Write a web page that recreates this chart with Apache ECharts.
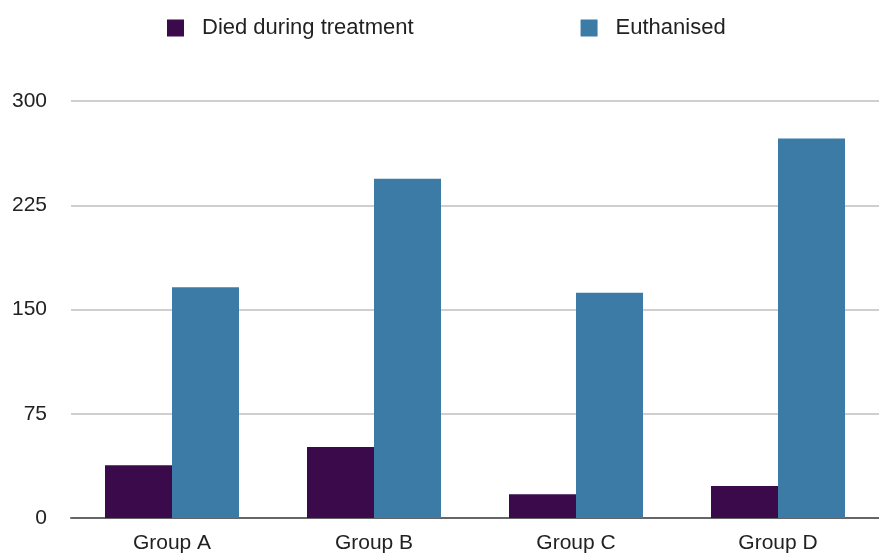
<!DOCTYPE html>
<html>
<head>
<meta charset="utf-8">
<script src="https://cdn.jsdelivr.net/npm/echarts@6/dist/echarts.min.js"></script>
<style>html,body{margin:0;padding:0;background:#fff}#c{width:879px;height:554px}</style>
</head>
<body>
<div id="c"></div>
<script>
const categories = ['Group A', 'Group B', 'Group C', 'Group D'];
const seriesNames = ['Died during treatment', 'Euthanised'];
const died = [38, 51, 17, 23];
const euthanised = [166, 244, 162, 273];
const yTicks = [0, 75, 150, 225, 300];

const chart = echarts.init(document.getElementById('c'));
const font = '"Liberation Sans", Arial, Helvetica, sans-serif';
chart.setOption({
  animation: false,
  legend: {
    top: 12,
    left: 162,
    itemGap: 167,
    itemWidth: 17,
    itemHeight: 17,
    icon: 'rect',
    textStyle: { fontFamily: font, fontSize: 22, color: '#222', padding: [0, 0, 0, 13] },
    data: seriesNames
  },
  grid: { left: 71, right: 0, top: 101, bottom: 35, containLabel: false },
  xAxis: {
    type: 'category',
    data: categories,
    axisTick: { show: false },
    axisLine: { lineStyle: { color: '#666', width: 2 } },
    axisLabel: { fontFamily: font, fontSize: 21, color: '#222', margin: 15 }
  },
  yAxis: {
    type: 'value',
    min: yTicks[0],
    max: yTicks[yTicks.length - 1],
    interval: yTicks[1] - yTicks[0],
    axisLine: { show: false },
    axisTick: { show: false },
    splitLine: { lineStyle: { color: '#cfcfcf', width: 2 } },
    axisLabel: { fontFamily: font, fontSize: 21, color: '#222', margin: 24 }
  },
  series: [
    {
      name: seriesNames[0], type: 'bar', data: died,
      barWidth: 67, barGap: '0%',
      itemStyle: { color: '#3b0a4b' }
    },
    {
      name: seriesNames[1], type: 'bar', data: euthanised,
      barWidth: 67, barGap: '0%',
      itemStyle: { color: '#3b7ba6' }
    }
  ]
});
</script>
</body>
</html>
